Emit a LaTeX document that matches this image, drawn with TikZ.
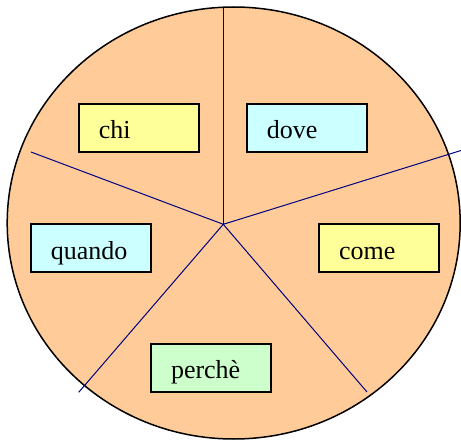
\documentclass[tikz,border=0pt]{standalone}
\usepackage{fontspec}
\setmainfont{Liberation Serif}
\usetikzlibrary{positioning}
\definecolor{peach}{HTML}{FFCC99}
\definecolor{paleyellow}{HTML}{FFFF99}
\definecolor{palecyan}{HTML}{CCFFFF}
\definecolor{palegreen}{HTML}{CCFFCC}
\definecolor{spokeblue}{HTML}{000080}

\begin{document}
\begin{tikzpicture}[x=1pt,y=-1pt,
	word/.style={draw,line width=1.5pt,minimum width=120pt,minimum height=48pt,
		text width=80pt,align=left,inner sep=0pt,text height=35pt,text depth=13pt,
		font=\fontsize{26}{30}\selectfont},
	spoke/.style={spokeblue,line width=1pt}]
	\useasboundingbox (0,0) rectangle (461,441);
	% the disc
	\draw[fill=peach,line width=1.5pt] (233.7,223) ellipse [x radius=226.5pt,y radius=216pt];
	% the spokes
	\coordinate (hub) at (223.3,224.3);
	\coordinate (top) at (223.3,7.5);
	\coordinate (upleft) at (31,152);
	\coordinate (upright) at (461,150.5);
	\coordinate (downright) at (367,392);
	\coordinate (downleft) at (78.7,392.3);
	\draw[spoke] (hub) -- (top);
	\draw[spoke] (hub) -- (upleft);
	\draw[spoke] (hub) -- (upright);
	\draw[spoke] (hub) -- (downright);
	\draw[spoke] (hub) -- (downleft);
	% the words
	\node[word,fill=paleyellow] (chi) at (138.8,128) {chi};
	\node[word,fill=palecyan] (dove) at (306.8,128) {dove};
	\node[word,fill=palecyan] (quando) at (90.8,248) {quando};
	\node[word,fill=paleyellow] (come) at (379,248) {come};
	\node[word,fill=palegreen] (perche) at (211,367.8) {perchè};
\end{tikzpicture}
\end{document}
